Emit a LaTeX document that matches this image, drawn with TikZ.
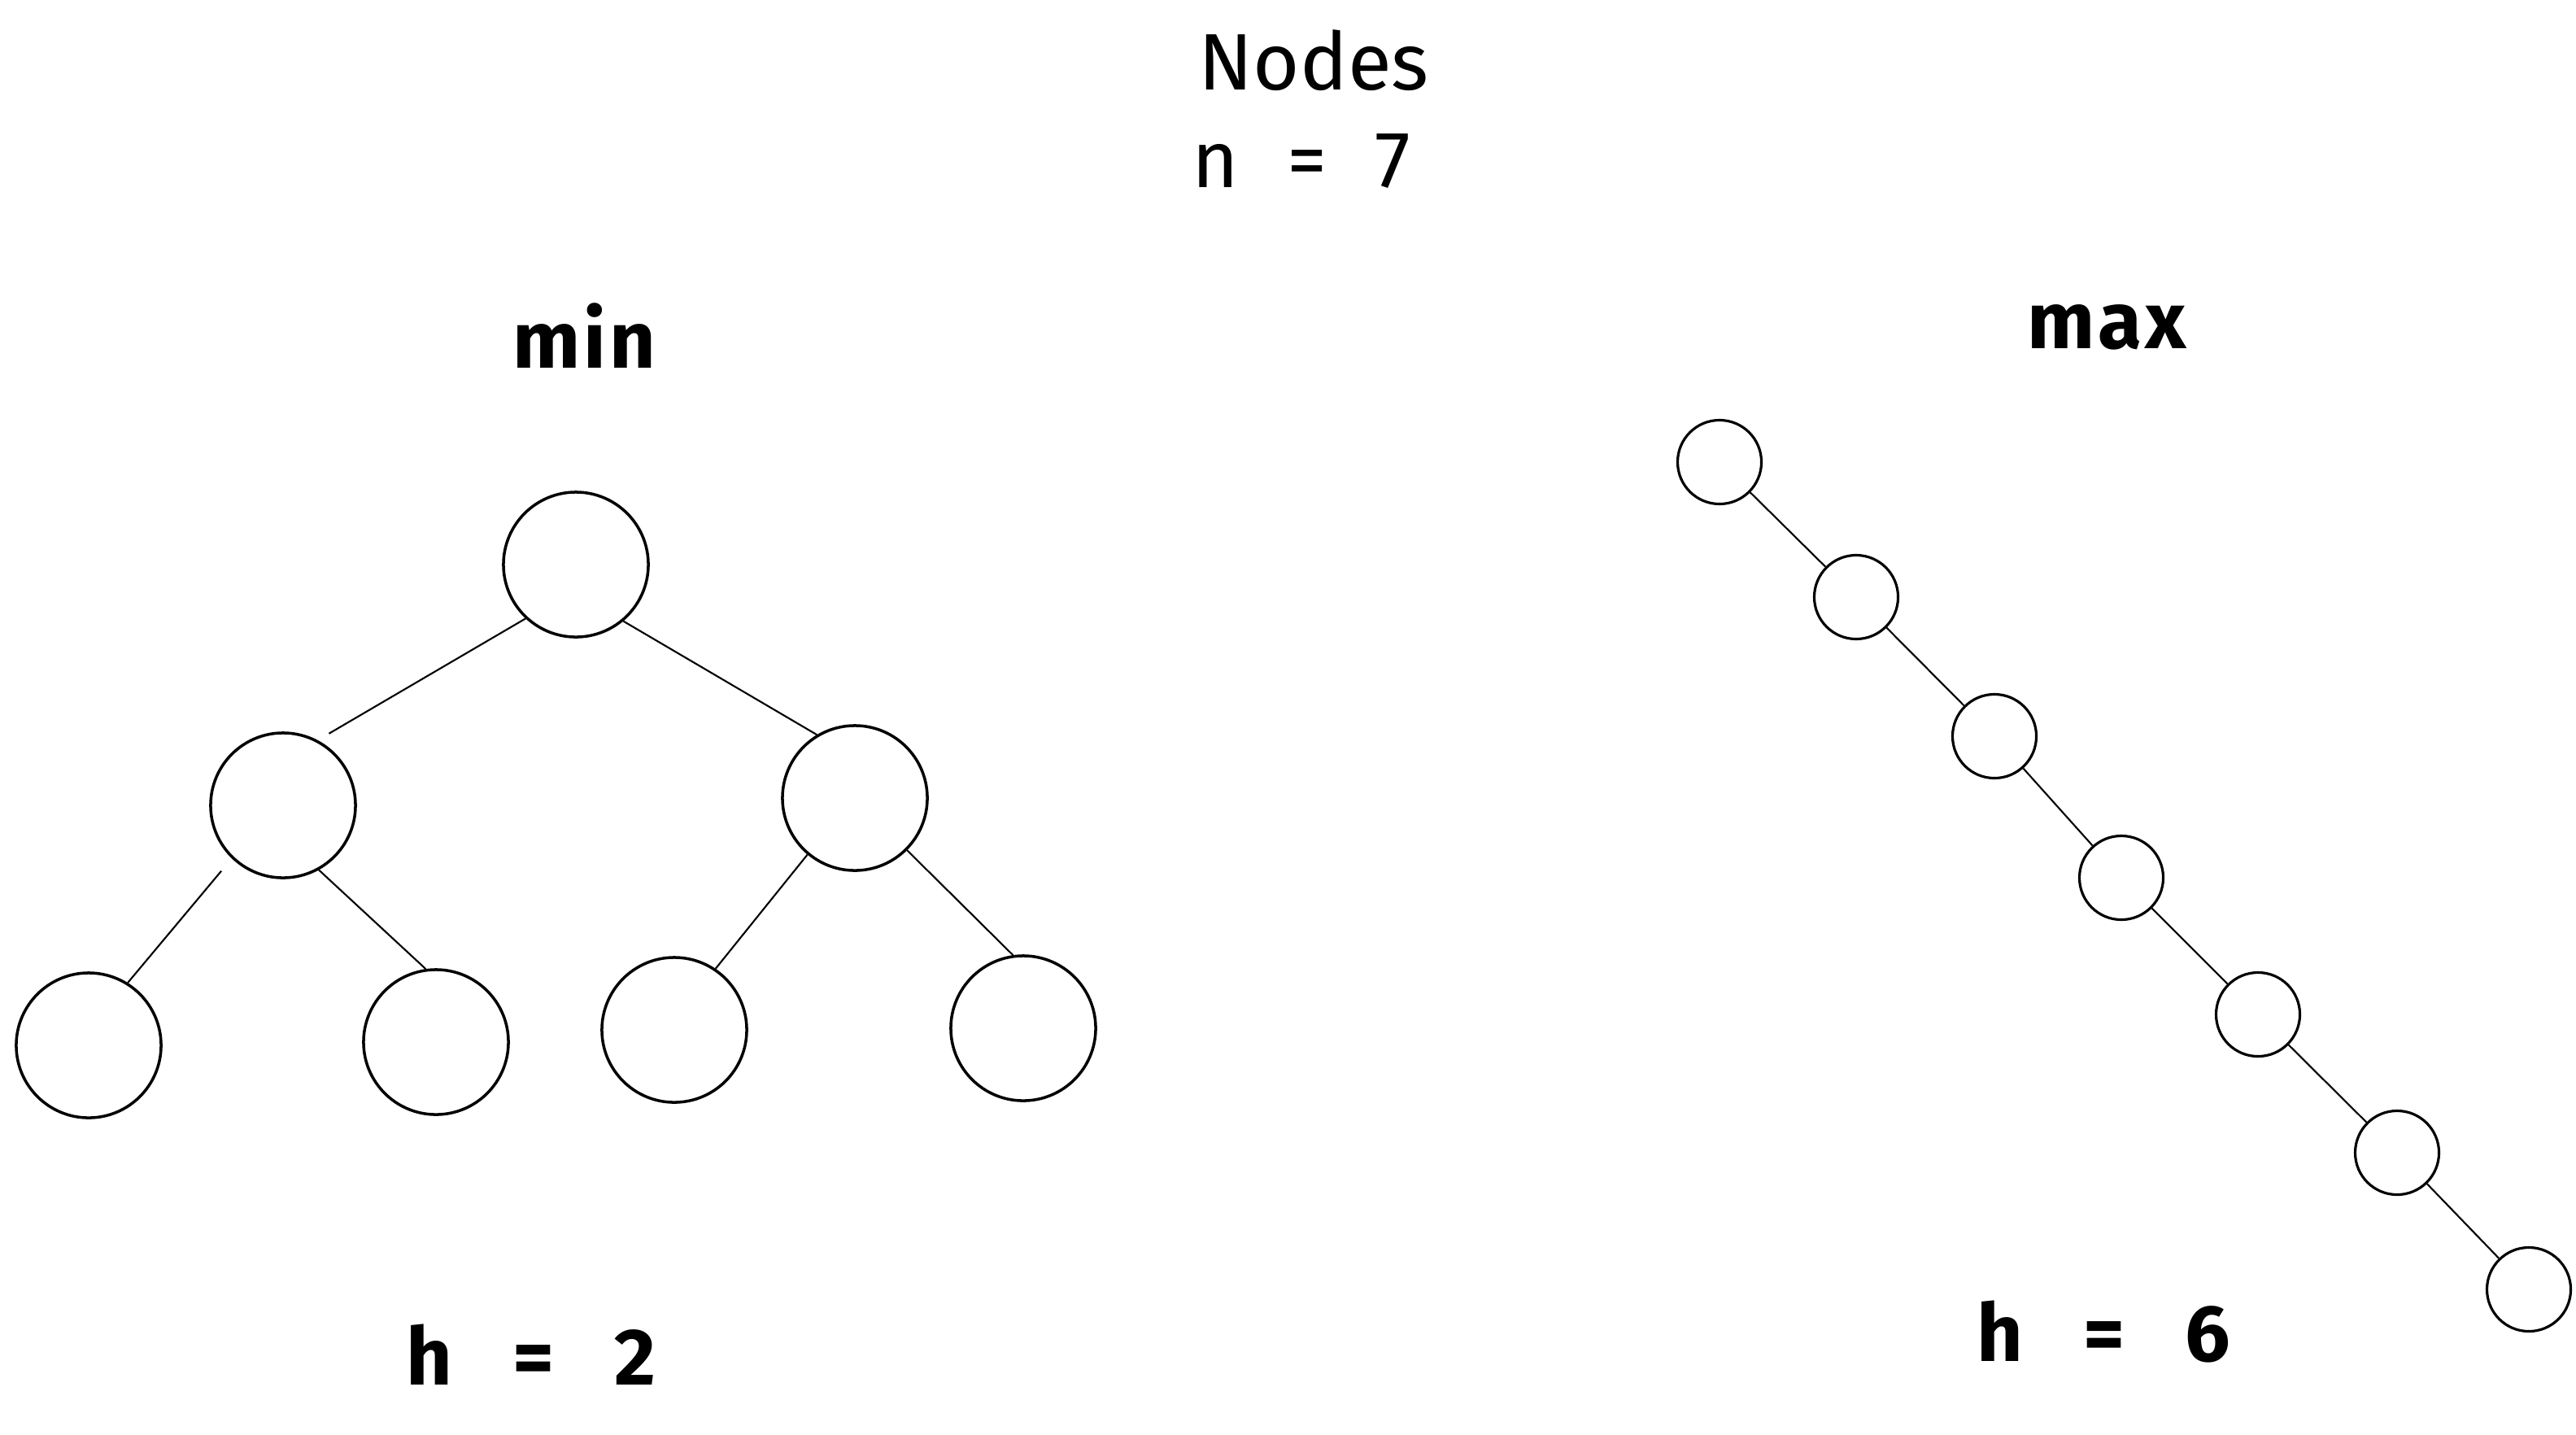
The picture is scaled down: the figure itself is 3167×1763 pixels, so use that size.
\documentclass[tikz,border=0pt]{standalone}
\usepackage{fontspec}
\setmainfont{Fira Sans}
\usepackage{tikz}
\usetikzlibrary{calc, positioning}
\newcommand{\widegap}[1]{\spaceskip=#1\relax}

\begin{document}
\begin{tikzpicture}[x=0.01cm, y=-0.01cm,
    bignode/.style={circle, draw, line width=1pt, minimum size=1.78cm, inner sep=0pt},
    smallnode/.style={circle, draw, line width=0.9pt, minimum size=1.03cm, inner sep=0pt},
    edge/.style={line width=0.6pt},
    lbl/.style={anchor=base, font={\fontsize{28}{34}\selectfont\widegap{0.6em}}},
    boldlbl/.style={anchor=base, font={\fontsize{28}{34}\selectfont\bfseries\addfontfeatures{LetterSpace=4}\widegap{0.75em}}}]
            \useasboundingbox (0, 0) rectangle (3167, 1763);
            \node[lbl] (title) at (1615, 110) {Nodes};
            \node[lbl] (count) at (1600, 230) {n = 7};
            \node[boldlbl] (minlbl) at (718, 452) {min};
            \node[boldlbl] (maxlbl) at (2590, 428) {max};
            % min tree
            \node[bignode] (root) at (708, 694) {};
            \node[bignode] (lc) at (348, 990) {};
            \node[bignode] (rc) at (1051, 981) {};
            \node[bignode] (ll) at (109, 1285) {};
            \node[bignode] (lr) at (536, 1281) {};
            \node[bignode] (rl) at (829, 1266) {};
            \node[bignode] (rr) at (1258, 1264) {};
            \draw[edge, shorten >=0.16cm] (root.227) -- (lc.62);
            \draw[edge] (root.310) -- (rc.121);
            \draw[edge, shorten <=0.2cm] (lc.226) -- (ll.58);
            \draw[edge] (lc.299) -- (lr.98);
            \draw[edge] (rc.230) -- (rl.56);
            \draw[edge] (rc.315) -- (rr.98);
            \node[boldlbl] (hmin) at (653, 1702) {h = 2};
            % max chain
            \node[smallnode] (m1) at (2114, 568) {};
            \node[smallnode] (m2) at (2282, 734) {};
            \node[smallnode] (m3) at (2452, 905) {};
            \node[smallnode] (m4) at (2608, 1079) {};
            \node[smallnode] (m5) at (2776, 1247) {};
            \node[smallnode] (m6) at (2947, 1417) {};
            \node[smallnode] (m7) at (3109, 1585) {};
            \draw[edge] (m1) -- (m2);
            \draw[edge] (m2) -- (m3);
            \draw[edge] (m3) -- (m4);
            \draw[edge] (m4) -- (m5);
            \draw[edge] (m5) -- (m6);
            \draw[edge] (m6) -- (m7);
            \node[boldlbl] (hmax) at (2586, 1673) {h = 6};
        \end{tikzpicture}
\end{document}
